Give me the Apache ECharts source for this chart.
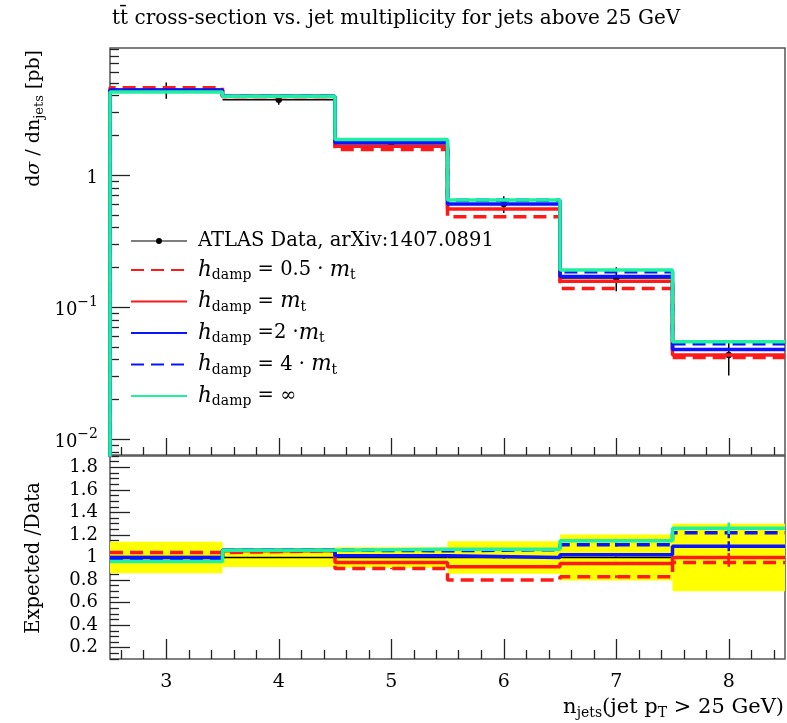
<!DOCTYPE html>
<html><head><meta charset="utf-8">
<script src="https://cdn.jsdelivr.net/npm/echarts@6/dist/echarts.min.js"></script>
<style>html,body{margin:0;padding:0;background:#fff}#c{width:787px;height:723px}</style>
</head><body><div id="c"></div>
<script>
// ---- data ----
const binEdges = [2.5, 3.5, 4.5, 5.5, 6.5, 7.5, 8.5];
const binCenters = [3, 4, 5, 6, 7, 8];
const xTickLabels = [3, 4, 5, 6, 7, 8];
const xMinorTicks = [2.6,2.8,3.2,3.4,3.6,3.8,4.2,4.4,4.6,4.8,5.2,5.4,5.6,5.8,6.2,6.4,6.6,6.8,7.2,7.4,7.6,7.8,8.2,8.4];
const dataValues = [4.40, 3.72, 1.73, 0.603, 0.166, 0.0433];
const dataRelErr = [0.14, 0.085, 0.09, 0.145, 0.205, 0.30];
const hdamp05  = [4.59, 3.94, 1.56, 0.482, 0.138, 0.0414];
const hdamp1   = [4.40, 3.94, 1.65, 0.554, 0.157, 0.0433];
const hdamp2   = [4.40, 3.96, 1.76, 0.603, 0.170, 0.0476];
const hdamp4   = [4.36, 3.96, 1.83, 0.645, 0.185, 0.0528];
const hdampInf = [4.25, 3.96, 1.86, 0.648, 0.191, 0.0546];
const ratio05  = [1.044, 1.06, 0.903, 0.80, 0.83, 0.956];
const ratio1   = [1.0, 1.06, 0.955, 0.918, 0.947, 1.0];
const ratio2   = [1.0, 1.065, 1.015, 1.0, 1.024, 1.10];
const ratio4   = [0.99, 1.065, 1.06, 1.07, 1.112, 1.22];
const ratioInf = [0.965, 1.065, 1.074, 1.074, 1.148, 1.26];
const mcRelErr = [0.0, 0.0, 0.005, 0.01, 0.015, 0.04];
const topMajorTicks = [0.01, 0.1, 1];
const topMinorTicks = [0.008,0.009,0.02,0.03,0.04,0.05,0.06,0.07,0.08,0.09,0.2,0.3,0.4,0.5,0.6,0.7,0.8,0.9,2,3,4,5,6,7,8,9];
const ratioMajorTicks = [0.2,0.4,0.6,0.8,1,1.2,1.4,1.6,1.8];
const ratioMinorTicks = [0.1,0.15,0.25,0.3,0.35,0.45,0.5,0.55,0.65,0.7,0.75,0.85,0.9,0.95,1.05,1.1,1.15,1.25,1.3,1.35,1.45,1.5,1.55,1.65,1.7,1.75,1.85,1.9];

const SERIF = "'DejaVu Serif', 'Liberation Serif', serif";
const RED = '#ff1a1a', BLUE = '#0a14ff', GREEN = '#1ef0a0';

function histPoints(vals, lead) {
  const pts = [];
  if (lead) pts.push([binEdges[0], 1e-5]);
  vals.forEach((v, i) => pts.push([binEdges[i], v]));
  pts.push([binEdges[vals.length], vals[vals.length - 1]]);
  return pts;
}

const models = [
  {key: 'h05', top: hdamp05, ratio: ratio05, color: RED, dash: [13, 7]},
  {key: 'h1', top: hdamp1, ratio: ratio1, color: RED, dash: 'solid'},
  {key: 'h2', top: hdamp2, ratio: ratio2, color: BLUE, dash: 'solid'},
  {key: 'h4', top: hdamp4, ratio: ratio4, color: BLUE, dash: [13, 7]},
  {key: 'hinf', top: hdampInf, ratio: ratioInf, color: GREEN, dash: 'solid'}
];

const legendText = {
  data: '{n|ATLAS Data, arXiv:1407.0891}',
  h05: '{i|h}{s|damp}{n| = 0.5 · }{i|m}{s|t}',
  h1: '{i|h}{s|damp}{n| = }{i|m}{s|t}',
  h2: '{i|h}{s|damp}{n| =2 ·}{i|m}{s|t}',
  h4: '{i|h}{s|damp}{n| = 4 · }{i|m}{s|t}',
  hinf: '{i|h}{s|damp}{n| = ∞}'
};

const series = [];
// top panel data
series.push({
  name: 'data', type: 'custom', xAxisIndex: 0, yAxisIndex: 0, z: 3,
  itemStyle: {color: '#000'},
  data: binCenters.map((c, i) => [c, dataValues[i], dataRelErr[i], binEdges[i], binEdges[i + 1]]),
  encode: {x: 0, y: 1},
  renderItem: function (params, api) {
    const x = api.value(0), v = api.value(1), e = api.value(2);
    const pc = api.coord([x, v]);
    const pl = api.coord([api.value(3), v]);
    const pr = api.coord([api.value(4), v]);
    const pt = api.coord([x, v * (1 + e)]);
    const pb = api.coord([x, v * (1 - e)]);
    const st = {stroke: '#000', lineWidth: 1.5};
    return {type: 'group', children: [
      {type: 'line', shape: {x1: pl[0], y1: pl[1], x2: pr[0], y2: pr[1]}, style: st},
      {type: 'line', shape: {x1: pt[0], y1: pt[1], x2: pb[0], y2: pb[1]}, style: st},
      {type: 'circle', shape: {cx: pc[0], cy: pc[1], r: 3.2}, style: {fill: '#000'}}
    ]};
  }
});
// ratio panel: yellow band + data line
series.push({
  name: 'band', type: 'custom', xAxisIndex: 3, yAxisIndex: 2, z: 1,
  data: binCenters.map((c, i) => [c, 1, dataRelErr[i], binEdges[i], binEdges[i + 1]]),
  encode: {x: 0, y: 1},
  renderItem: function (params, api) {
    const e = api.value(2);
    const p0 = api.coord([api.value(3), 1 + e]);
    const p1 = api.coord([api.value(4), 1 - e]);
    const pl = api.coord([api.value(3), 1]);
    const pr = api.coord([api.value(4), 1]);
    return {type: 'group', children: [
      {type: 'rect', shape: {x: p0[0], y: p0[1], width: p1[0] - p0[0], height: p1[1] - p0[1]}, style: {fill: '#ffff00'}},
      {type: 'line', shape: {x1: pl[0], y1: pl[1], x2: pr[0], y2: pr[1]}, style: {stroke: '#000', lineWidth: 1.5}}
    ]};
  }
});
function errBarRender(color) {
  return function (params, api) {
    const x = api.value(0), v = api.value(1), e = api.value(2);
    const pt = api.coord([x, v + e]);
    const pb = api.coord([x, v - e]);
    return {type: 'line', shape: {x1: pt[0], y1: pt[1], x2: pb[0], y2: pb[1]}, style: {stroke: color, lineWidth: 2.5}};
  };
}
models.forEach((m, k) => {
  series.push({
    name: m.key, type: 'line', step: 'end', xAxisIndex: 0, yAxisIndex: 0, z: 4 + k,
    symbol: 'none', clip: true, color: m.color,
    lineStyle: {color: m.color, width: 3.5, type: m.dash},
    data: histPoints(m.top, true)
  });
  series.push({
    name: m.key + '_r', type: 'line', step: 'end', xAxisIndex: 3, yAxisIndex: 2, z: 4 + k,
    symbol: 'none', clip: true, color: m.color,
    lineStyle: {color: m.color, width: 3.5, type: m.dash},
    data: histPoints(m.ratio, false)
  });
  series.push({
    name: m.key + '_re', type: 'custom', xAxisIndex: 3, yAxisIndex: 2, z: 4 + k,
    data: binCenters.map((c, i) => [c, m.ratio[i], mcRelErr[i] * m.ratio[i]]),
    encode: {x: 0, y: 1},
    renderItem: errBarRender(m.color)
  });
});

const richLabel = {
  b: {fontFamily: SERIF, fontSize: 18, color: '#000', verticalAlign: 'bottom', lineHeight: 24},
  s: {fontFamily: SERIF, fontSize: 14, color: '#000', verticalAlign: 'top', lineHeight: 14}
};

const hiddenLine = {show: false};
function xAx(grid, ticks, len, labels) {
  return {
    type: 'value', gridIndex: grid, min: 2.5, max: 8.5, position: 'bottom',
    axisLine: hiddenLine, splitLine: {show: false},
    axisTick: {show: true, inside: true, length: len, customValues: ticks, lineStyle: {color: '#222', width: 1.3}},
    axisLabel: labels ? {show: true, customValues: xTickLabels, margin: 14, fontFamily: SERIF, fontSize: 19, color: '#000'} : {show: false}
  };
}
function yAx(grid, type, min, max, ticks, len, label) {
  return {
    type: type, gridIndex: grid, min: min, max: max, position: 'left',
    axisLine: hiddenLine, splitLine: {show: false},
    axisTick: {show: true, inside: true, length: len, customValues: ticks, lineStyle: {color: '#222', width: 1.3}},
    axisLabel: label || {show: false}
  };
}

const option = {
  animation: false,
  backgroundColor: '#fff',
  grid: [
    {left: 110, top: 48, width: 675, height: 407, show: true, borderColor: '#555', borderWidth: 1.5, backgroundColor: 'transparent'},
    {left: 110, top: 456, width: 675, height: 203, show: true, borderColor: '#555', borderWidth: 1.5, backgroundColor: 'transparent'}
  ],
  xAxis: [
    xAx(0, xTickLabels, 17, false),
    xAx(0, xMinorTicks, 8, false),
    xAx(1, xMinorTicks, 9, false),
    xAx(1, xTickLabels, 20, true)
  ],
  yAxis: [
    yAx(0, 'log', 0.00757, 9.17, topMajorTicks, 20, {show: true, customValues: topMajorTicks, margin: 12, rich: richLabel,
       formatter: function (v) { if (Math.abs(v - 1) < 1e-9) return '{b|1}'; const e = Math.round(Math.log10(v)); return '{b|10}{s|−' + (-e) + '}'; }}),
    yAx(0, 'log', 0.00757, 9.17, topMinorTicks, 9, null),
    yAx(1, 'value', 0.1, 1.9, ratioMajorTicks, 20, {show: true, customValues: ratioMajorTicks, margin: 12, fontFamily: SERIF, fontSize: 18, color: '#000',
       formatter: function (v) { return (Math.round(v * 10) / 10).toString(); }}),
    yAx(1, 'value', 0.1, 1.9, ratioMinorTicks, 9, null)
  ],
  legend: {
    orient: 'vertical', left: 130, top: 231, padding: 0, itemWidth: 56, itemHeight: 6, itemGap: 8,
    selectedMode: false,
    itemStyle: {opacity: 0},
    data: [
      {name: 'data', icon: 'path://M0,2.5L56,2.5L56,3.5L0,3.5Z M31,3 A3,3 0 1 1 25,3 A3,3 0 1 1 31,3Z', itemStyle: {color: '#000', opacity: 1}},
      'h05', 'h1', 'h2', 'h4', 'hinf'
    ],
    formatter: function (name) { return legendText[name]; },
    textStyle: {
      fontFamily: SERIF, fontSize: 19.5, color: '#000', padding: [0, 0, 0, 6],
      rich: {
        n: {fontFamily: SERIF, fontSize: 19.5, color: '#000', lineHeight: 25, verticalAlign: 'middle'},
        i: {fontFamily: SERIF, fontSize: 21.5, fontStyle: 'italic', color: '#000', lineHeight: 25, verticalAlign: 'middle'},
        s: {fontFamily: SERIF, fontSize: 14, color: '#000', verticalAlign: 'bottom', lineHeight: 13}
      }
    }
  },
  graphic: [
    {type: 'text', left: 112, top: 9, style: {text: 'tt\u0304 cross-section vs. jet multiplicity for jets above 25 GeV', font: '20px ' + SERIF, fill: '#000'}},
    {type: 'text', x: 34, y: 50, rotation: Math.PI / 2,
     style: {text: '{n|d}{i|σ}{n| / dn}{s|jets}{n| [pb]}', align: 'right', verticalAlign: 'middle',
       rich: {
         n: {fontFamily: SERIF, fontSize: 19, fill: '#000', lineHeight: 24, verticalAlign: 'middle'},
         i: {fontFamily: SERIF, fontSize: 19, fontStyle: 'italic', fill: '#000', lineHeight: 24, verticalAlign: 'middle'},
         s: {fontFamily: SERIF, fontSize: 13, fill: '#000', verticalAlign: 'bottom', lineHeight: 13}
       }}},
    {type: 'text', x: 34, y: 558, rotation: Math.PI / 2,
     style: {text: 'Expected /Data', align: 'center', verticalAlign: 'middle', font: '19.5px ' + SERIF, fill: '#000'}},
    {type: 'text', x: 784, y: 708,
     style: {text: '{n|n}{s|jets}{n|(jet p}{s|T}{n| > 25 GeV)}', align: 'right', verticalAlign: 'middle',
       rich: {
         n: {fontFamily: SERIF, fontSize: 21, fill: '#000', lineHeight: 24, verticalAlign: 'middle'},
         s: {fontFamily: SERIF, fontSize: 14, fill: '#000', verticalAlign: 'bottom', lineHeight: 13}
       }}}
  ],
  series: series
};

const chart = echarts.init(document.getElementById('c'), null, {renderer: 'canvas'});
chart.setOption(option);
</script>
</body></html>
